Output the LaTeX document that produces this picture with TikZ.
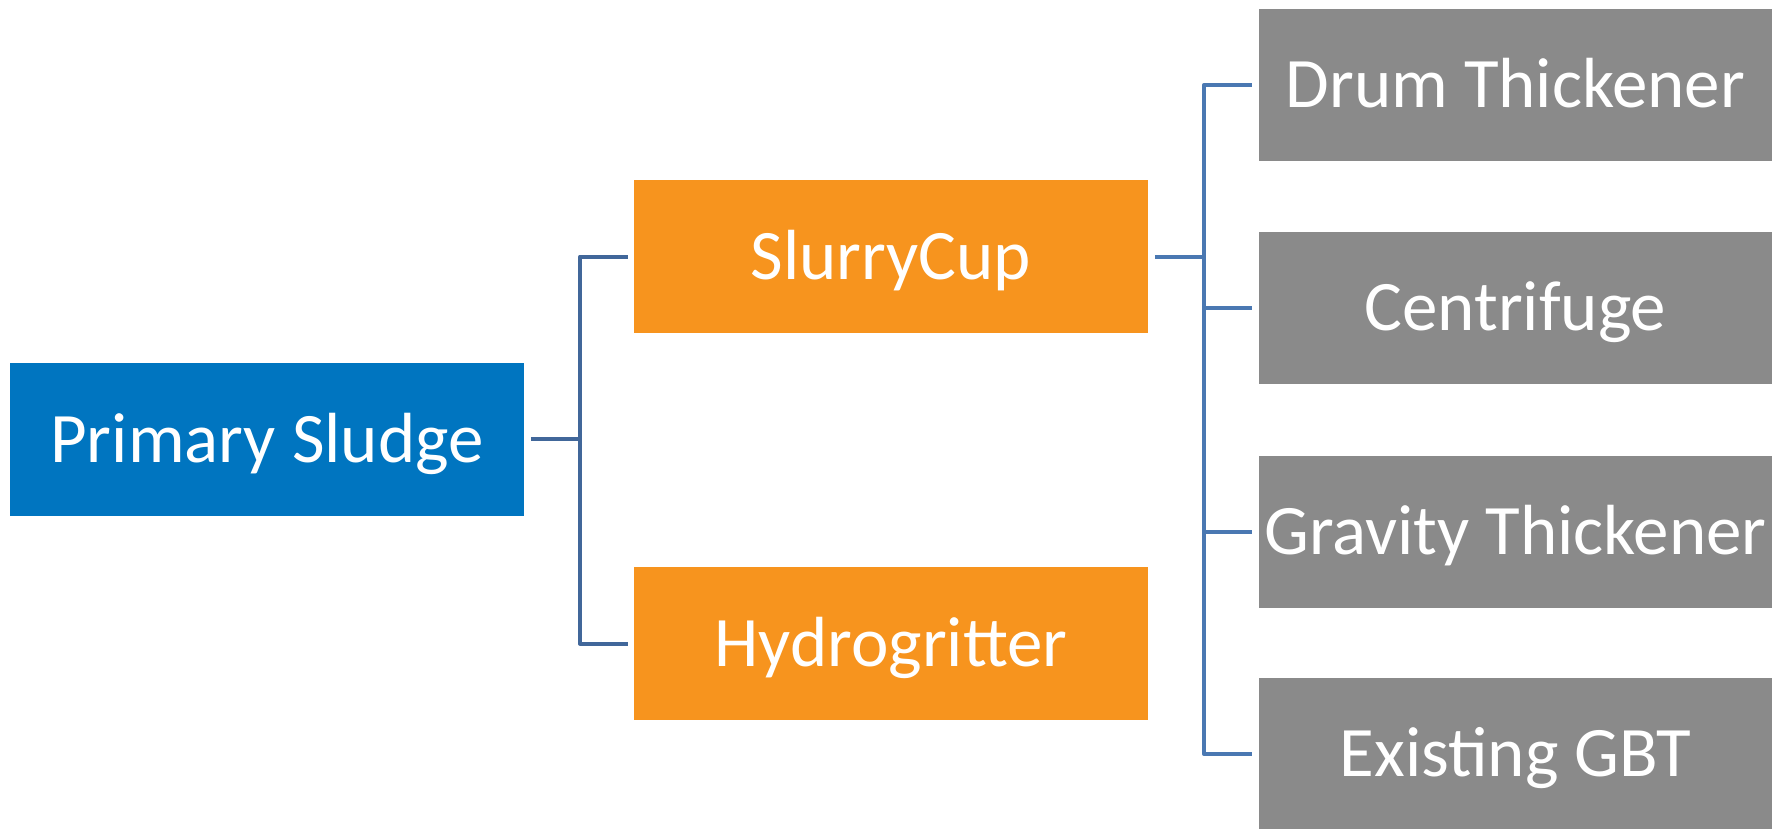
\documentclass[tikz,border=0pt]{standalone}
\usepackage{fontspec}
\setmainfont{Carlito}
\definecolor{cblue}{RGB}{0,117,192}
\definecolor{corange}{RGB}{247,148,30}
\definecolor{cgrey}{RGB}{138,138,138}
\definecolor{lineA}{RGB}{65,103,154}
\definecolor{lineB}{RGB}{74,120,178}
\begin{document}
\begin{tikzpicture}[x=1pt,y=-1pt,
  box/.style={rectangle,inner sep=0pt,minimum width=513.4pt,minimum height=153pt,
    text=white,font=\fontsize{71}{85}\selectfont,text height=45.7pt,text depth=0pt},
  bluebox/.style={box,fill=cblue},
  orangebox/.style={box,fill=corange},
  greybox/.style={box,fill=cgrey,minimum height=152pt},
  conn/.style={line width=4pt,line join=round}]
\useasboundingbox (0,0) rectangle (1789,829);
\node[bluebox] (P) at (267,439.3) {Primary Sludge};
\node[orangebox] (S) at (891,256.7) {SlurryCup};
\node[orangebox] (H) at (891,643.5) {Hydrogritter};
\node[greybox] (D) at (1515.3,85) {Drum Thickener};
\node[greybox] (C) at (1515.3,308) {Centrifuge};
\node[greybox] (G) at (1515.3,531.7) {Gravity Thickener};
\node[greybox] (E) at (1515.3,754) {Existing GBT};
\draw[conn,lineA] ([xshift=7pt]P.east) -- ++(49,0) coordinate (j1);
\draw[conn,lineA] (j1) |- ([xshift=-6pt]S.west);
\draw[conn,lineA] (j1) |- ([xshift=-6pt]H.west);
\draw[conn,lineB] ([xshift=7pt]S.east) -- ++(49,0) coordinate (j2);
\draw[conn,lineB] (j2) |- ([xshift=-6pt]D.west);
\draw[conn,lineB] (j2) |- ([xshift=-6pt]E.west);
\draw[conn,lineB] (j2 |- C.west) -- ([xshift=-6pt]C.west);
\draw[conn,lineB] (j2 |- G.west) -- ([xshift=-6pt]G.west);
\end{tikzpicture}
\end{document}
